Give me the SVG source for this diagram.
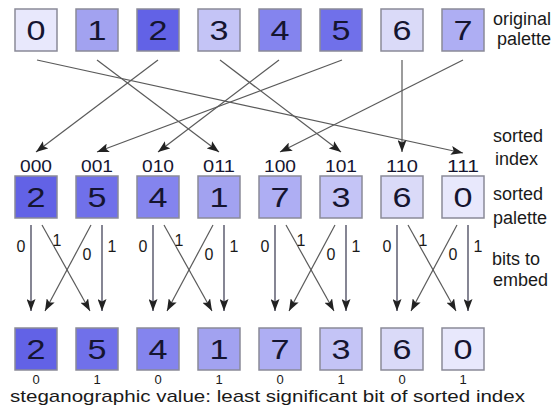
<svg xmlns="http://www.w3.org/2000/svg" width="559" height="414" viewBox="0 0 559 414">
<style>
  text { font-family: "Liberation Sans", Arial, sans-serif; fill: #151530; }
  .box { stroke: #8a8a98; stroke-width: 1.5; }
  .dig { font-size: 28px; text-anchor: middle; }
  .idx { font-size: 16px; text-anchor: middle; }
  .lbl { font-size: 18px; fill: #1a1a1a; }
  .foot { font-size: 17px; fill: #1a1a1a; }
  .bit { font-size: 16px; text-anchor: middle; fill: #1a1a1a; }
  .lsb { font-size: 13px; text-anchor: middle; fill: #1a1a1a; }
  .c0 { fill: #e8e8fc; } .c1 { fill: #a2a2f0; } .c2 { fill: #6262e6; } .c3 { fill: #c4c4f6; }
  .c4 { fill: #8484ee; } .c5 { fill: #7070ea; } .c6 { fill: #dadaf8; } .c7 { fill: #aeaef3; }
  .conn { stroke: #5a5a5a; stroke-width: 1.2; fill: none; marker-end: url(#ah); }
  .vert { stroke: #44445a; stroke-width: 1.3; fill: none; marker-end: url(#ah); }
</style>
<defs>
  <marker id="ah" markerUnits="userSpaceOnUse" markerWidth="13" markerHeight="9" refX="12" refY="4.5" orient="auto">
    <path d="M0,0 L12,4.5 L0,9 L2.5,4.5 z" fill="#222"/>
  </marker>
</defs>
<rect width="559" height="414" fill="#ffffff"/>

<!-- original palette -->
<g id="top-0"><rect class="box c0" x="15" y="9" width="42" height="42"/><text class="dig" x="36" y="40" textLength="19" lengthAdjust="spacingAndGlyphs">0</text></g>
<g id="top-1"><rect class="box c1" x="76" y="9" width="42" height="42"/><text class="dig" x="97" y="40" textLength="19" lengthAdjust="spacingAndGlyphs">1</text></g>
<g id="top-2"><rect class="box c2" x="137" y="9" width="42" height="42"/><text class="dig" x="158" y="40" textLength="19" lengthAdjust="spacingAndGlyphs">2</text></g>
<g id="top-3"><rect class="box c3" x="198" y="9" width="42" height="42"/><text class="dig" x="219" y="40" textLength="19" lengthAdjust="spacingAndGlyphs">3</text></g>
<g id="top-4"><rect class="box c4" x="259" y="9" width="42" height="42"/><text class="dig" x="280" y="40" textLength="19" lengthAdjust="spacingAndGlyphs">4</text></g>
<g id="top-5"><rect class="box c5" x="320" y="9" width="42" height="42"/><text class="dig" x="341" y="40" textLength="19" lengthAdjust="spacingAndGlyphs">5</text></g>
<g id="top-6"><rect class="box c6" x="381" y="9" width="42" height="42"/><text class="dig" x="402" y="40" textLength="19" lengthAdjust="spacingAndGlyphs">6</text></g>
<g id="top-7"><rect class="box c7" x="442" y="9" width="42" height="42"/><text class="dig" x="463" y="40" textLength="19" lengthAdjust="spacingAndGlyphs">7</text></g>

<!-- sorted palette -->
<g id="sorted-000"><text class="idx" x="36" y="172" textLength="32" lengthAdjust="spacingAndGlyphs">000</text><rect class="box c2" x="15" y="176" width="42" height="42"/><text class="dig" x="36" y="207" textLength="19" lengthAdjust="spacingAndGlyphs">2</text></g>
<g id="sorted-001"><text class="idx" x="97" y="172" textLength="32" lengthAdjust="spacingAndGlyphs">001</text><rect class="box c5" x="76" y="176" width="42" height="42"/><text class="dig" x="97" y="207" textLength="19" lengthAdjust="spacingAndGlyphs">5</text></g>
<g id="sorted-010"><text class="idx" x="158" y="172" textLength="32" lengthAdjust="spacingAndGlyphs">010</text><rect class="box c4" x="137" y="176" width="42" height="42"/><text class="dig" x="158" y="207" textLength="19" lengthAdjust="spacingAndGlyphs">4</text></g>
<g id="sorted-011"><text class="idx" x="219" y="172" textLength="32" lengthAdjust="spacingAndGlyphs">011</text><rect class="box c1" x="198" y="176" width="42" height="42"/><text class="dig" x="219" y="207" textLength="19" lengthAdjust="spacingAndGlyphs">1</text></g>
<g id="sorted-100"><text class="idx" x="280" y="172" textLength="32" lengthAdjust="spacingAndGlyphs">100</text><rect class="box c7" x="259" y="176" width="42" height="42"/><text class="dig" x="280" y="207" textLength="19" lengthAdjust="spacingAndGlyphs">7</text></g>
<g id="sorted-101"><text class="idx" x="341" y="172" textLength="32" lengthAdjust="spacingAndGlyphs">101</text><rect class="box c3" x="320" y="176" width="42" height="42"/><text class="dig" x="341" y="207" textLength="19" lengthAdjust="spacingAndGlyphs">3</text></g>
<g id="sorted-110"><text class="idx" x="402" y="172" textLength="32" lengthAdjust="spacingAndGlyphs">110</text><rect class="box c6" x="381" y="176" width="42" height="42"/><text class="dig" x="402" y="207" textLength="19" lengthAdjust="spacingAndGlyphs">6</text></g>
<g id="sorted-111"><text class="idx" x="463" y="172" textLength="32" lengthAdjust="spacingAndGlyphs">111</text><rect class="box c0" x="442" y="176" width="42" height="42"/><text class="dig" x="463" y="207" textLength="19" lengthAdjust="spacingAndGlyphs">0</text></g>

<!-- result row -->
<g id="out-0"><rect class="box c2" x="15" y="328" width="42" height="42"/><text class="dig" x="36" y="359" textLength="19" lengthAdjust="spacingAndGlyphs">2</text><text class="lsb" x="36" y="384">0</text></g>
<g id="out-1"><rect class="box c5" x="76" y="328" width="42" height="42"/><text class="dig" x="97" y="359" textLength="19" lengthAdjust="spacingAndGlyphs">5</text><text class="lsb" x="97" y="384">1</text></g>
<g id="out-2"><rect class="box c4" x="137" y="328" width="42" height="42"/><text class="dig" x="158" y="359" textLength="19" lengthAdjust="spacingAndGlyphs">4</text><text class="lsb" x="158" y="384">0</text></g>
<g id="out-3"><rect class="box c1" x="198" y="328" width="42" height="42"/><text class="dig" x="219" y="359" textLength="19" lengthAdjust="spacingAndGlyphs">1</text><text class="lsb" x="219" y="384">1</text></g>
<g id="out-4"><rect class="box c7" x="259" y="328" width="42" height="42"/><text class="dig" x="280" y="359" textLength="19" lengthAdjust="spacingAndGlyphs">7</text><text class="lsb" x="280" y="384">0</text></g>
<g id="out-5"><rect class="box c3" x="320" y="328" width="42" height="42"/><text class="dig" x="341" y="359" textLength="19" lengthAdjust="spacingAndGlyphs">3</text><text class="lsb" x="341" y="384">1</text></g>
<g id="out-6"><rect class="box c6" x="381" y="328" width="42" height="42"/><text class="dig" x="402" y="359" textLength="19" lengthAdjust="spacingAndGlyphs">6</text><text class="lsb" x="402" y="384">0</text></g>
<g id="out-7"><rect class="box c0" x="442" y="328" width="42" height="42"/><text class="dig" x="463" y="359" textLength="19" lengthAdjust="spacingAndGlyphs">0</text><text class="lsb" x="463" y="384">1</text></g>

<!-- side labels -->
<g id="labels">
  <text class="lbl" x="493" y="25">original</text>
  <text class="lbl" x="497" y="45">palette</text>
  <text class="lbl" x="493" y="142">sorted</text>
  <text class="lbl" x="495" y="165">index</text>
  <text class="lbl" x="493" y="200">sorted</text>
  <text class="lbl" x="493" y="224">palette</text>
  <text class="lbl" x="492" y="265">bits to</text>
  <text class="lbl" x="493" y="286">embed</text>
  <text class="foot" x="10" y="402" textLength="515" lengthAdjust="spacingAndGlyphs">steganographic value: least significant bit of sorted index</text>
</g>

<!-- connectors -->
<g id="connectors">
  <line class="conn" x1="37" y1="60" x2="463" y2="153"/>
  <line class="conn" x1="97" y1="60" x2="219" y2="152"/>
  <line class="conn" x1="158" y1="60" x2="36" y2="152"/>
  <line class="conn" x1="220" y1="60" x2="341" y2="152"/>
  <line class="conn" x1="279" y1="60" x2="158" y2="152"/>
  <line class="conn" x1="342" y1="60" x2="97" y2="152"/>
  <line class="conn" x1="402" y1="60" x2="402" y2="152"/>
  <line class="conn" x1="463" y1="60" x2="280" y2="152"/>

  <!-- pair 1: cL=36, cR=97 -->
  <line class="vert" x1="31" y1="225" x2="31" y2="311"/>
  <line class="conn" x1="42" y1="225" x2="90" y2="311"/>
  <line class="conn" x1="91" y1="225" x2="45" y2="311"/>
  <line class="vert" x1="102" y1="225" x2="102" y2="311"/>
  <!-- pair 2: cL=158, cR=219 -->
  <line class="vert" x1="153" y1="225" x2="153" y2="311"/>
  <line class="conn" x1="164" y1="225" x2="212" y2="311"/>
  <line class="conn" x1="213" y1="225" x2="167" y2="311"/>
  <line class="vert" x1="224" y1="225" x2="224" y2="311"/>
  <!-- pair 3: cL=280, cR=341 -->
  <line class="vert" x1="275" y1="225" x2="275" y2="311"/>
  <line class="conn" x1="286" y1="225" x2="334" y2="311"/>
  <line class="conn" x1="335" y1="225" x2="289" y2="311"/>
  <line class="vert" x1="346" y1="225" x2="346" y2="311"/>
  <!-- pair 4: cL=402, cR=463 -->
  <line class="vert" x1="397" y1="225" x2="397" y2="311"/>
  <line class="conn" x1="408" y1="225" x2="456" y2="311"/>
  <line class="conn" x1="457" y1="225" x2="411" y2="311"/>
  <line class="vert" x1="468" y1="225" x2="468" y2="311"/>

  <text class="bit" x="21" y="252">0</text><text class="bit" x="57" y="246">1</text><text class="bit" x="87" y="260">0</text><text class="bit" x="112" y="252">1</text>
  <text class="bit" x="143" y="252">0</text><text class="bit" x="179" y="246">1</text><text class="bit" x="209" y="260">0</text><text class="bit" x="234" y="252">1</text>
  <text class="bit" x="265" y="252">0</text><text class="bit" x="301" y="246">1</text><text class="bit" x="331" y="260">0</text><text class="bit" x="356" y="252">1</text>
  <text class="bit" x="387" y="252">0</text><text class="bit" x="423" y="246">1</text><text class="bit" x="453" y="260">0</text><text class="bit" x="478" y="252">1</text>
</g>
</svg>
